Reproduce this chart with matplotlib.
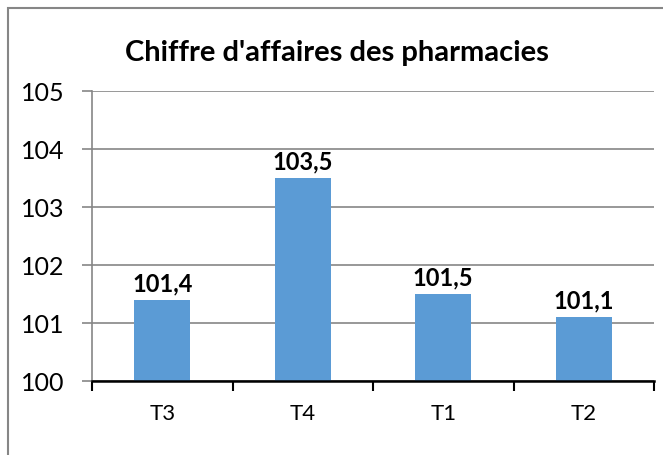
import matplotlib
matplotlib.use("Agg")
import matplotlib.pyplot as plt
from matplotlib.patches import Rectangle

categories = ["T3", "T4", "T1", "T2"]
values = [101.4, 103.5, 101.5, 101.1]
labels = ["101,4", "103,5", "101,5", "101,1"]
yticks = [100, 101, 102, 103, 104, 105]
title = "Chiffre d'affaires des pharmacies"

plt.rcParams['font.family'] = ['Lato', 'DejaVu Sans']

W, H = 663, 456
fig = plt.figure(figsize=(W/100, H/100), dpi=100)
ax = fig.add_axes([92/W, 1-382/H, (654-92)/W, (382-92)/H])

x = list(range(len(categories)))
ax.bar(x, [v - 100 for v in values], bottom=100, width=0.4, color="#5B9BD5", zorder=3)
for xi, v, lab in zip(x, values, labels):
    ax.text(xi, v + 0.1, lab, ha="center", va="bottom", fontsize=17, fontweight="bold", color="#000000", zorder=4)

ax.set_xlim(-0.5, len(categories) - 0.5)
ax.set_ylim(100, 105)
ax.set_yticks(yticks)
ax.set_yticklabels([str(t) for t in yticks], fontsize=18)
ax.grid(axis="y", color="#868686", linewidth=1.2, zorder=0)
ax.set_xticks(x)
ax.set_xticklabels(categories, fontsize=16)
ax.tick_params(axis="x", length=0, pad=16)
ax.set_xticks([i - 0.5 for i in range(len(categories) + 1)], minor=True)
ax.tick_params(axis="x", which="minor", length=7, width=1.5, color="black", direction="out")
ax.tick_params(axis="y", length=7, width=1.2, color="#868686", pad=13)
for s in ["top", "right"]:
    ax.spines[s].set_visible(False)
ax.spines["left"].set_color("#868686")
ax.spines["left"].set_linewidth(1.2)
ax.spines["bottom"].set_color("black")
ax.spines["bottom"].set_linewidth(1.8)
ax.spines["bottom"].set_zorder(5)

fig.text(337/W, 1-53/H, title, ha="center", va="center", fontsize=21, fontweight="bold")

fig.patches.append(Rectangle((8/W, -0.1), 1.0, 1 - 9/H + 0.1, transform=fig.transFigure,
                             fill=False, edgecolor="#868686", linewidth=1.5))

fig.savefig("out.png", dpi=100)
